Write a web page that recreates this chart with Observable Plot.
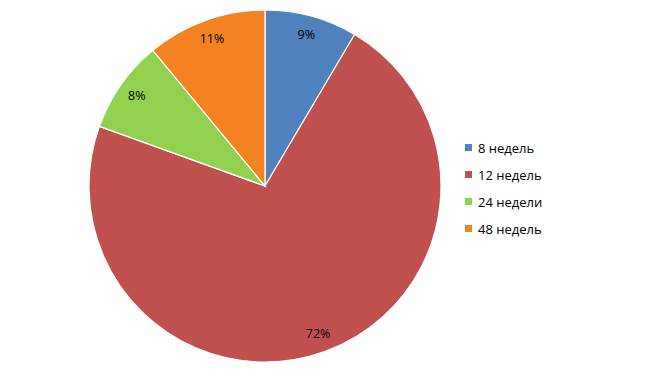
<!DOCTYPE html>
<html>
<head>
<meta charset="utf-8">
<script src="https://cdn.jsdelivr.net/npm/d3@7"></script>
<script src="https://cdn.jsdelivr.net/npm/@observablehq/plot@0.6"></script>
<style>
  html, body { margin: 0; padding: 0; background: #fff; }
  #chart { width: 650px; height: 376px; }
</style>
</head>
<body>
<div id="chart"></div>
<script>
const categories = ["8 недель", "12 недель", "24 недели", "48 недель"];
const values = [8.5, 72.0, 8.5, 11.0];
const valueLabels = ["9%", "72%", "8%", "11%"];
const colors = ["#4F81BD", "#C0504D", "#92D050", "#F58220"];

const data = categories.map((c, i) => ({category: c, value: values[i], label: valueLabels[i]}));

const color = Plot.scale({color: {type: "ordinal", domain: categories, range: colors}});

const W = 650, H = 376;
const cx = 265, cy = 186, R = 176;
const font = "'Open Sans', 'Noto Sans', sans-serif";

function pieMark(index, scales, values_, dimensions) {
  const svg = d3.create("svg:g");
  const pie = d3.pie().sort(null).value(d => d.value);
  const arcs = pie(data);
  const arc = d3.arc().innerRadius(0).outerRadius(R);
  const g = svg.append("g").attr("transform", `translate(${cx},${cy})`);
  g.selectAll("path").data(arcs).join("path")
    .attr("d", arc)
    .attr("fill", d => color.apply(d.data.category))
    .attr("stroke", "#fff")
    .attr("stroke-width", 1.2);
  const lr = R * 0.89;
  g.selectAll("text").data(arcs).join("text")
    .attr("x", d => lr * Math.sin((d.startAngle + d.endAngle) / 2))
    .attr("y", d => -lr * Math.cos((d.startAngle + d.endAngle) / 2))
    .attr("text-anchor", "middle")
    .attr("dominant-baseline", "central")
    .attr("font-family", font)
    .attr("font-size", 12.5)
    .attr("fill", "#000")
    .text(d => d.data.label);
  // legend
  const lg = svg.append("g").attr("transform", "translate(465,148)");
  const item = lg.selectAll("g").data(categories).join("g")
    .attr("transform", (d, i) => `translate(0,${i * 27})`);
  item.append("rect")
    .attr("x", 0).attr("y", -4).attr("width", 7).attr("height", 7)
    .attr("fill", d => color.apply(d));
  item.append("text")
    .attr("x", 13).attr("y", 0)
    .attr("text-anchor", "start")
    .attr("dominant-baseline", "central")
    .attr("font-family", font)
    .attr("font-size", 13)
    .attr("fill", "#000")
    .text(d => d);
  return svg.node();
}

const chart = Plot.plot({
  width: W,
  height: H,
  margin: 0,
  style: {background: "#fff"},
  marks: [pieMark]
});
document.getElementById("chart").appendChild(chart);
</script>
</body>
</html>
